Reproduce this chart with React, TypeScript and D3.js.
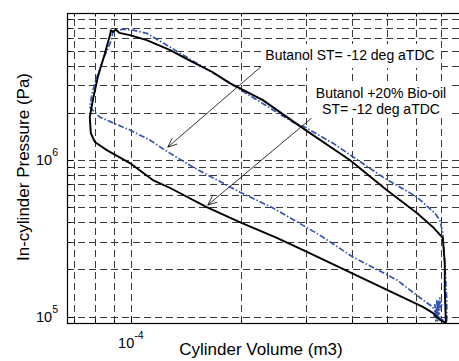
import React from 'react';
import * as d3 from 'd3';

// ---- Data ----
// Butanol + 20% Bio-oil, ST = -12 deg aTDC (black, solid)
const bioOilVolume = [
  6.95e-4, 6.65e-4, 6.25e-4, 4.86e-4, 3.02e-4, 2.5e-4, 1.98e-4, 1.61e-4, 1.28e-4, 1.148e-4,
  0.994e-4, 0.86e-4, 0.798e-4, 0.778e-4, 0.773e-4, 0.788e-4, 0.813e-4, 0.85e-4, 0.88e-4, 0.882e-4,
  0.893e-4, 0.91e-4, 0.93e-4, 0.994e-4, 1.105e-4, 1.28e-4, 1.475e-4, 1.673e-4, 1.861e-4, 2.29e-4,
  2.94e-4, 3.95e-4, 4.98e-4, 6.02e-4, 6.65e-4, 7.08e-4, 7.17e-4, 7.17e-4, 7.22e-4, 6.95e-4,
];
const bioOilPressure = [
  9.53e4, 1.056e5, 1.153e5, 1.525e5, 2.59e5, 3.18e5, 4.02e5, 5.01e5, 6.63e5, 7.45e5,
  9.57e5, 1.158e6, 1.303e6, 1.487e6, 1.881e6, 2.415e6, 3.39e6, 4.82e6, 6.46e6, 6.76e6,
  6.6e6, 6.8e6, 6.5e6, 6.28e6, 5.83e6, 5.04e6, 4.22e6, 3.64e6, 3.1e6, 2.415e6,
  1.6e6, 1.0e6, 6.43e5, 4.59e5, 3.74e5, 3.18e5, 2.2e5, 1.48e5, 9.12e4, 9.53e4,
];

// Butanol, ST = -12 deg aTDC (blue, dash-dot)
const butanolVolume = [
  6.82e-4, 6.65e-4, 6.25e-4, 5.31e-4, 4.03e-4, 3.27e-4, 2.44e-4, 1.98e-4, 1.475e-4, 1.238e-4,
  1.127e-4, 0.994e-4, 0.823e-4, 0.773e-4, 0.783e-4, 0.798e-4, 0.839e-4, 0.885e-4, 0.893e-4, 0.951e-4,
  1.013e-4, 1.105e-4, 1.28e-4, 1.861e-4, 2.76e-4, 2.98e-4, 3.55e-4, 4.86e-4, 6.02e-4, 6.73e-4,
  6.95e-4, 7.08e-4, 7.17e-4, 7.26e-4, 7.26e-4, 6.95e-4, 6.82e-4, 6.86e-4, 6.73e-4, 6.91e-4,
  6.78e-4, 7.0e-4, 6.69e-4, 6.95e-4, 6.78e-4, 7.03e-4, 6.72e-4, 6.9e-4, 6.82e-4,
];
const butanolPressure = [
  1.01e5, 1.153e5, 1.278e5, 1.715e5, 2.4e5, 3.32e5, 4.94e5, 6.25e5, 9.02e5, 1.158e6,
  1.342e6, 1.554e6, 1.881e6, 2.18e6, 2.6e6, 3.1e6, 4.35e6, 5.83e6, 6.56e6, 6.86e6,
  6.76e6, 6.46e6, 5.26e6, 3.1e6, 1.748e6, 1.624e6, 1.284e6, 7.79e5, 5.8e5, 4.59e5,
  4.14e5, 3.42e5, 2.2e5, 1.278e5, 9.12e4, 9.81e4, 1.278e5, 9.39e4, 1.188e5, 9.53e4,
  1.104e5, 1.25e5, 9.8e4, 1.31e5, 9.4e4, 1.19e5, 1.0e5, 1.22e5, 1.01e5,
];

const xDomain = [6.7e-5, 8.4e-4];
const yDomain = [9.1e4, 8.7e6];

const xLabel = 'Cylinder Volume (m3)';
const yLabel = 'In-cylinder Pressure (Pa)';
const label1 = ['Butanol ST= -12 deg aTDC'];
const label2 = ['Butanol +20% Bio-oil', 'ST= -12 deg aTDC'];
// annotation arrows: [tailV, tailP, tipV, tipP]
const arrow1 = [2.29e-4, 4.04e6, 1.261e-4, 1.21e6];
const arrow2 = [3.11e-4, 1.854e6, 1.621e-4, 5.16e5];

const FONT = '"Liberation Sans", Arial, Helvetica, sans-serif';

export default function App() {
  const L = 67, T = 13, R = 470, B = 323;
  const x = d3.scaleLog().domain(xDomain).range([L, R]);
  const y = d3.scaleLog().domain(yDomain).range([B, T]);
  const px = (v: number) => Math.round(v) + 0.5;

  const xTicks = x.ticks();
  const yTicks = y.ticks();
  const isMajor = (v: number) => Math.abs(Math.log10(v) - Math.round(Math.log10(v))) < 1e-6;

  const line = d3.line<[number, number]>().x(d => x(d[0])).y(d => y(d[1]));
  const bio = bioOilVolume.map((v, i) => [v, bioOilPressure[i]] as [number, number]);
  const but = butanolVolume.map((v, i) => [v, butanolPressure[i]] as [number, number]);

  const arrow = (a: number[], key: string) => {
    const x1 = x(a[0]), y1 = y(a[1]), x2 = x(a[2]), y2 = y(a[3]);
    const ang = Math.atan2(y2 - y1, x2 - x1);
    const len = 10, spread = 0.4;
    const hx1 = x2 - len * Math.cos(ang - spread), hy1 = y2 - len * Math.sin(ang - spread);
    const hx2 = x2 - len * Math.cos(ang + spread), hy2 = y2 - len * Math.sin(ang + spread);
    return (
      <g key={key} stroke="#000" strokeWidth={0.8} fill="none">
        <line x1={x1} y1={y1} x2={x2} y2={y2} />
        <path d={`M${hx1},${hy1}L${x2},${y2}L${hx2},${hy2}`} />
      </g>
    );
  };

  const sup = (base: string, exp: string, props: any, key: string) => (
    <text key={key} {...props} fontFamily={FONT} fill="#000">
      <tspan fontSize={14.5}>{base}</tspan>
      <tspan fontSize={10.5} dy={-9}>{exp}</tspan>
    </text>
  );

  return (
    <svg width={459} height={361} style={{ position: 'absolute', left: 0, top: 0, background: '#fff' }}>
      <defs>
        <clipPath id="plot">
          <rect x={L} y={T} width={R - L} height={B - T} />
        </clipPath>
      </defs>
      <rect x={0} y={0} width={459} height={361} fill="#fff" />
      <g clipPath="url(#plot)">
        {xTicks.map((t, i) => (
          <line key={'gx' + i} x1={px(x(t))} x2={px(x(t))} y1={B} y2={T} stroke="#3a3a3a" strokeWidth={1} strokeDasharray="7,4" />
        ))}
        {yTicks.map((t, i) => (
          <line key={'gy' + i} x1={L} x2={R} y1={px(y(t))} y2={px(y(t))} stroke="#3a3a3a" strokeWidth={1} strokeDasharray="7,4" />
        ))}
        {xTicks.map((t, i) => {
          const len = isMajor(t) ? 6 : 3.5;
          return (
            <g key={'tx' + i} stroke="#000" strokeWidth={1}>
              <line x1={px(x(t))} x2={px(x(t))} y1={B} y2={B - len} />
              <line x1={px(x(t))} x2={px(x(t))} y1={T} y2={T + len} />
            </g>
          );
        })}
        {yTicks.map((t, i) => {
          const len = isMajor(t) ? 6 : 3.5;
          return (
            <g key={'ty' + i} stroke="#000" strokeWidth={1}>
              <line x1={L} x2={L + len} y1={px(y(t))} y2={px(y(t))} />
              <line x1={R} x2={R - len} y1={px(y(t))} y2={px(y(t))} />
            </g>
          );
        })}
        <path d={line(but) || ''} fill="none" stroke="#3354b0" strokeWidth={1.7} strokeDasharray="6,2,1.5,2" strokeLinejoin="round" />
        <path d={line(bio) || ''} fill="none" stroke="#000" strokeWidth={1.9} strokeLinejoin="round" />
      </g>
      <rect x={L + 0.5} y={T + 0.5} width={R - L} height={B - T} fill="none" stroke="#000" strokeWidth={1.2} />

      {/* tick labels */}
      {xTicks.filter(isMajor).map((t, i) =>
        sup('10', String(Math.round(Math.log10(t))), { x: x(t), y: 348, textAnchor: 'middle' }, 'xl' + i)
      )}
      {yTicks.filter(isMajor).map((t, i) =>
        sup('10', String(Math.round(Math.log10(t))), { x: 58, y: y(t) + 5, textAnchor: 'end' }, 'yl' + i)
      )}

      {/* axis labels */}
      <text x={261} y={355} textAnchor="middle" fontFamily={FONT} fontSize={17}>{xLabel}</text>
      <text transform="translate(29,167) rotate(-90)" textAnchor="middle" fontFamily={FONT} fontSize={17}>{yLabel}</text>

      {/* annotations */}
      {arrow(arrow1, 'a1')}
      {arrow(arrow2, 'a2')}
      <rect x={261} y={44} width={177} height={24} fill="#fff" />
      {label1.map((s, i) => (
        <text key={'l1' + i} x={350} y={60} textAnchor="middle" fontFamily={FONT} fontSize={14}>{s}</text>
      ))}
      <rect x={309} y={83} width={142} height={35} fill="#fff" />
      {label2.map((s, i) => (
        <text key={'l2' + i} x={381} y={97.5 + i * 16} textAnchor="middle" fontFamily={FONT} fontSize={14}>{s}</text>
      ))}
    </svg>
  );
}
